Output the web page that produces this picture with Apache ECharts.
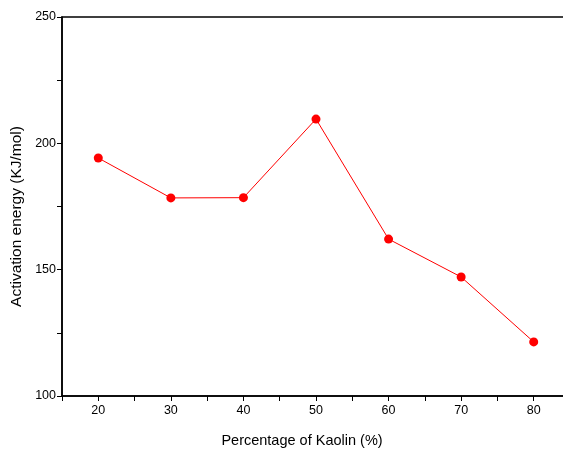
<!DOCTYPE html>
<html>
<head>
<meta charset="utf-8">
<script src="https://cdn.jsdelivr.net/npm/echarts@6/dist/echarts.min.js"></script>
<style>html,body{margin:0;padding:0;background:#fff}#c{width:563px;height:449px}</style>
</head>
<body>
<div id="c"></div>
<script>
var kaolin = [20, 30, 40, 50, 60, 70, 80];
var energy = [194.2, 178.4, 178.5, 209.6, 162.1, 147.1, 121.4];
var xTicks = [20, 30, 40, 50, 60, 70, 80];
var yTicks = [100, 150, 200, 250];

var chart = echarts.init(document.getElementById('c'));
var font = '"Liberation Sans", Arial, sans-serif';
chart.setOption({
  animation: false,
  backgroundColor: '#fff',
  grid: { left: 62, top: 17, right: -7, bottom: 53, containLabel: false, outerBoundsMode: 'none',
    show: true, borderColor: '#000', borderWidth: 1.5, backgroundColor: 'transparent' },
  xAxis: {
    type: 'value', min: 15, max: 85, interval: 5,
    name: 'Percentage of Kaolin (%)', nameLocation: 'middle', nameGap: 37,
    nameTextStyle: { fontFamily: font, fontSize: 14.5, color: '#000', padding: [0, 28, 0, 0] },
    axisLine: { show: true, onZero: false, lineStyle: { color: '#000', width: 1.5 } },
    axisTick: { show: true, inside: false, length: 5, lineStyle: { color: '#000', width: 1 } },
    splitLine: { show: false },
    axisLabel: {
      fontFamily: font, fontSize: 12.5, color: '#000', margin: 8,
      formatter: function (v) { return xTicks.indexOf(v) >= 0 ? String(v) : ''; }
    }
  },
  yAxis: {
    type: 'value', min: 100, max: 250, interval: 25,
    name: 'Activation energy (KJ/mol)', nameLocation: 'middle', nameGap: 35,
    nameTextStyle: { fontFamily: font, fontSize: 15.5, color: '#000', padding: [0, 20, 0, 0] },
    axisLine: { show: true, lineStyle: { color: '#000', width: 1.5 } },
    axisTick: { show: true, inside: false, length: 5, lineStyle: { color: '#000', width: 1 } },
    splitLine: { show: false },
    axisLabel: {
      fontFamily: font, fontSize: 12.5, color: '#000', margin: 6,
      formatter: function (v) { return yTicks.indexOf(v) >= 0 ? String(v) : ''; }
    }
  },
  series: [{
    type: 'line',
    data: kaolin.map(function (k, i) { return [k, energy[i]]; }),
    symbol: 'circle', symbolSize: 9,
    lineStyle: { color: '#ff0000', width: 1 },
    itemStyle: { color: '#ff0000' }
  }]
});
</script>
</body>
</html>
